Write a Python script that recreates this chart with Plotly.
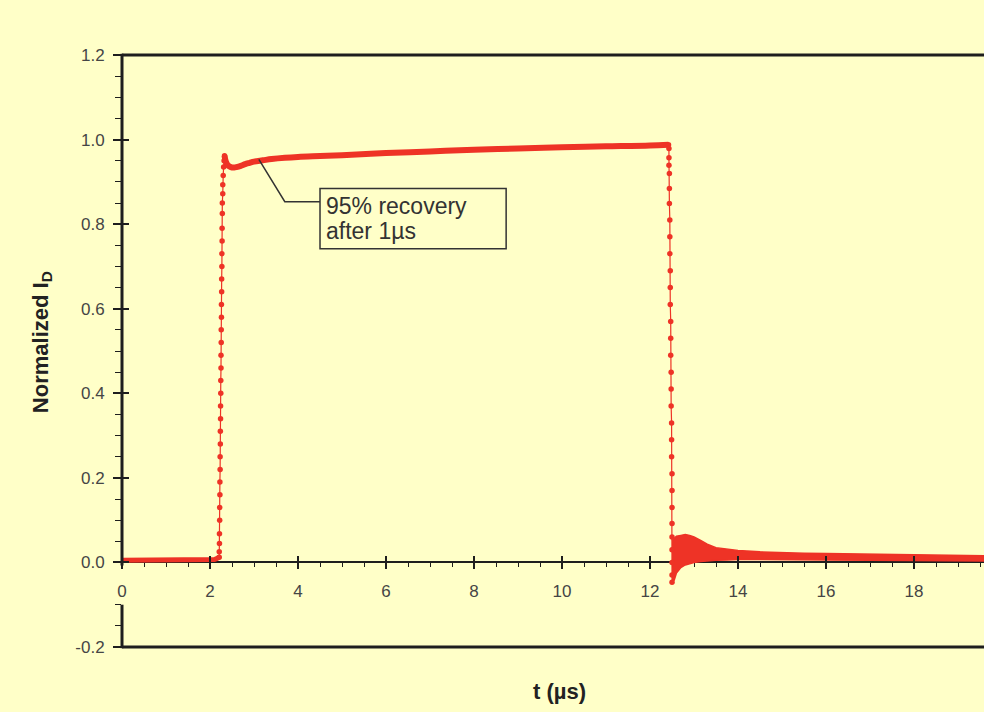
import plotly.graph_objects as go

# ---- data ----
base_t = [0.0, 0.5, 1.0, 1.5, 1.8, 2.0, 2.1, 2.15, 2.2, 2.21]
base_y = [0.005, 0.005, 0.005, 0.005, 0.005, 0.006, 0.007, 0.009, 0.010, 0.012]

rise_t = [2.21, 2.21, 2.215, 2.215, 2.22, 2.22, 2.225, 2.225, 2.23, 2.23, 2.235, 2.235,
          2.24, 2.24, 2.245, 2.245, 2.25, 2.25, 2.255, 2.255, 2.26, 2.26, 2.265, 2.265,
          2.27, 2.27, 2.275, 2.275, 2.28, 2.28, 2.29, 2.29, 2.30, 2.31, 2.32, 2.33]
rise_y = [0.012, 0.025, 0.045, 0.068, 0.10, 0.13, 0.16, 0.19, 0.22, 0.25, 0.28, 0.31,
          0.34, 0.37, 0.40, 0.43, 0.46, 0.49, 0.52, 0.55, 0.58, 0.61, 0.64, 0.67,
          0.70, 0.73, 0.76, 0.79, 0.825, 0.85, 0.872, 0.893, 0.915, 0.935, 0.95, 0.962]

top_t = [2.33, 2.36, 2.40, 2.45, 2.50, 2.55, 2.60, 2.70, 2.80, 2.90, 3.00, 3.20, 3.40,
         3.70, 4.00, 4.50, 5.00, 6.00, 7.00, 8.00, 9.00, 10.00, 11.00, 12.00, 12.42]
top_y = [0.962, 0.948, 0.940, 0.936, 0.934, 0.934, 0.935, 0.938, 0.942, 0.945, 0.948,
         0.951, 0.954, 0.957, 0.959, 0.961, 0.963, 0.968, 0.972, 0.976, 0.979, 0.982,
         0.984, 0.986, 0.988]

fall_t = [12.42, 12.43, 12.43, 12.43, 12.44, 12.44, 12.44, 12.45, 12.45, 12.45, 12.46,
          12.46, 12.46, 12.47, 12.47, 12.47, 12.48, 12.48, 12.48, 12.49, 12.49, 12.49,
          12.50, 12.50, 12.50, 12.50, 12.50, 12.50, 12.50, 12.50, 12.50]
fall_y = [0.988, 0.979, 0.957, 0.939, 0.92, 0.884, 0.849, 0.81, 0.77, 0.73, 0.69, 0.65,
          0.61, 0.57, 0.53, 0.49, 0.45, 0.41, 0.37, 0.33, 0.29, 0.25, 0.21, 0.17, 0.13,
          0.092, 0.06, 0.03, 0.0, -0.03, -0.047]

ring_t = [12.50, 12.55, 12.60, 12.70, 12.80, 12.90, 13.00, 13.15, 13.30, 13.50, 13.75,
          14.00, 14.50, 15.00, 15.50, 16.00, 17.00, 18.00, 19.00, 20.00]
ring_hi = [0.052, 0.058, 0.062, 0.064, 0.066, 0.064, 0.060, 0.052, 0.043, 0.035, 0.031,
           0.028, 0.025, 0.023, 0.022, 0.021, 0.019, 0.018, 0.016, 0.015]
ring_lo = [-0.047, -0.042, -0.025, -0.012, -0.006, -0.003, 0.0, 0.002, 0.004, 0.005,
           0.006, 0.007, 0.007, 0.007, 0.006, 0.006, 0.005, 0.004, 0.003, 0.003]

x_ticks = [0, 2, 4, 6, 8, 10, 12, 14, 16, 18]
y_ticks = [-0.2, 0.0, 0.2, 0.4, 0.6, 0.8, 1.0, 1.2]
y_tick_text = ["-0.2", "0.0", "0.2", "0.4", "0.6", "0.8", "1.0", "1.2"]

RED = "#EE3326"
BG = "#FFFFC8"
INK = "#1E1E1E"
TICK_TXT = "#454545"
FONT = "Liberation Sans, Arial, sans-serif"
X_RANGE = [0, 19.59]
Y_RANGE = [-0.2, 1.2]
ZERO_POS = (0 - Y_RANGE[0]) / (Y_RANGE[1] - Y_RANGE[0])

fig = go.Figure()

fig.add_trace(go.Scatter(x=base_t, y=base_y, mode="lines",
                         line=dict(color=RED, width=5), hoverinfo="skip"))
fig.add_trace(go.Scatter(x=top_t, y=top_y, mode="lines",
                         line=dict(color=RED, width=6, shape="spline"), hoverinfo="skip"))
fig.add_trace(go.Scatter(x=ring_t, y=ring_lo, mode="lines",
                         line=dict(color=RED, width=1.5), hoverinfo="skip"))
fig.add_trace(go.Scatter(x=ring_t, y=ring_hi, mode="lines", fill="tonexty",
                         fillcolor=RED, line=dict(color=RED, width=1.5), hoverinfo="skip"))
fig.add_trace(go.Scatter(x=rise_t, y=rise_y, mode="lines+markers",
                         line=dict(color=RED, width=1.2),
                         marker=dict(color=RED, size=5.5), hoverinfo="skip"))
fig.add_trace(go.Scatter(x=fall_t, y=fall_y, mode="lines+markers",
                         line=dict(color=RED, width=1.2),
                         marker=dict(color=RED, size=5.5), hoverinfo="skip"))
# dummy trace so the overlay axes (inner halves of major ticks) are drawn
fig.add_trace(go.Scatter(x=[None], y=[None], xaxis="x2", yaxis="y2",
                         mode="markers", hoverinfo="skip"))

y_minor = [-0.15, -0.1, 0.05, 0.1, 0.15, 0.25, 0.3, 0.35, 0.45, 0.5, 0.55, 0.65, 0.7,
           0.75, 0.85, 0.9, 0.95, 1.05, 1.1, 1.15]

fig.update_layout(
    width=984, height=712,
    margin=dict(l=122, r=0, t=55, b=65),
    paper_bgcolor=BG, plot_bgcolor=BG,
    showlegend=False,
    font=dict(family=FONT, color=TICK_TXT, size=17),
    xaxis=dict(range=X_RANGE, anchor="free", position=ZERO_POS,
               showgrid=False, zeroline=False, showline=True,
               linecolor=INK, linewidth=1.5, layer="below traces",
               tickmode="array", tickvals=x_ticks,
               ticks="outside", ticklen=6, tickwidth=1.5, tickcolor=INK,
               ticklabelstandoff=7,
               tickfont=dict(size=17, color=TICK_TXT),
               minor=dict(dtick=0.5, ticks="outside", ticklen=4, tickwidth=1.2,
                          tickcolor=INK)),
    yaxis=dict(range=Y_RANGE, showgrid=False, zeroline=False, showline=False,
               tickmode="array", tickvals=y_ticks, ticktext=y_tick_text,
               ticks="outside", ticklen=8, tickwidth=1.5, tickcolor=INK,
               ticklabelstandoff=5,
               tickfont=dict(size=17, color=TICK_TXT),
               minor=dict(tickvals=y_minor, ticks="outside", ticklen=6,
                          tickwidth=1.2, tickcolor=INK)),
    xaxis2=dict(range=X_RANGE, overlaying="x", anchor="free", position=ZERO_POS,
                showgrid=False, zeroline=False, showline=False,
                tickmode="array", tickvals=x_ticks, ticks="inside", ticklen=6,
                tickwidth=1.5, tickcolor=INK, showticklabels=False),
    yaxis2=dict(range=Y_RANGE, overlaying="y", anchor="x2", side="left",
                showgrid=False, zeroline=False, showline=False,
                tickmode="array", tickvals=y_ticks, ticks="inside", ticklen=7,
                tickwidth=1.5, tickcolor=INK, showticklabels=False),
)

# frame lines (top, bottom, left with a gap behind the "0" label)
gap_top = (-0.007 - Y_RANGE[0]) / (Y_RANGE[1] - Y_RANGE[0])
gap_bot = (-0.10 - Y_RANGE[0]) / (Y_RANGE[1] - Y_RANGE[0])
frame = dict(type="line", xref="paper", yref="paper", line=dict(color=INK, width=3))
fig.add_shape(**frame, x0=0, x1=1.02, y0=1, y1=1)
fig.add_shape(**frame, x0=0, x1=1.02, y0=0, y1=0)
fig.add_shape(**frame, x0=0, x1=0, y0=gap_top, y1=1.002)
fig.add_shape(**frame, x0=0, x1=0, y0=-0.002, y1=gap_bot)

# callout: leader line and box
fig.add_shape(type="path", xref="x", yref="y",
              path="M 3.11 0.953 L 3.70 0.853 L 4.50 0.853",
              line=dict(color="#333333", width=1.5))
fig.add_shape(type="rect", xref="x", yref="y", x0=4.50, x1=8.73, y0=0.742, y1=0.884,
              line=dict(color="#333333", width=1.5), fillcolor="rgba(0,0,0,0)")
fig.add_annotation(x=4.60, y=0.843, xref="x", yref="y", text="95% recovery",
                   showarrow=False, xanchor="left", yanchor="middle",
                   font=dict(family=FONT, size=23, color="#333333"))
fig.add_annotation(x=4.60, y=0.784, xref="x", yref="y", text="after 1µs",
                   showarrow=False, xanchor="left", yanchor="middle",
                   font=dict(family=FONT, size=23, color="#333333"))

# axis titles
fig.add_annotation(x=-0.0928, y=0.515, xref="paper", yref="paper",
                   text="<b>Normalized I<sub>D</sub></b>", textangle=-90,
                   showarrow=False, xanchor="center", yanchor="middle",
                   font=dict(family=FONT, size=22, color="#222222"))
fig.add_annotation(x=0.508, y=-0.075, xref="paper", yref="paper",
                   text="<b>t (µs)</b>", showarrow=False,
                   xanchor="center", yanchor="middle",
                   font=dict(family=FONT, size=22, color="#222222"))

fig.write_html("out.html",
               config={"displayModeBar": False},
               post_script="document.body.style.margin='0';"
                           "document.body.style.background='" + BG + "';")
